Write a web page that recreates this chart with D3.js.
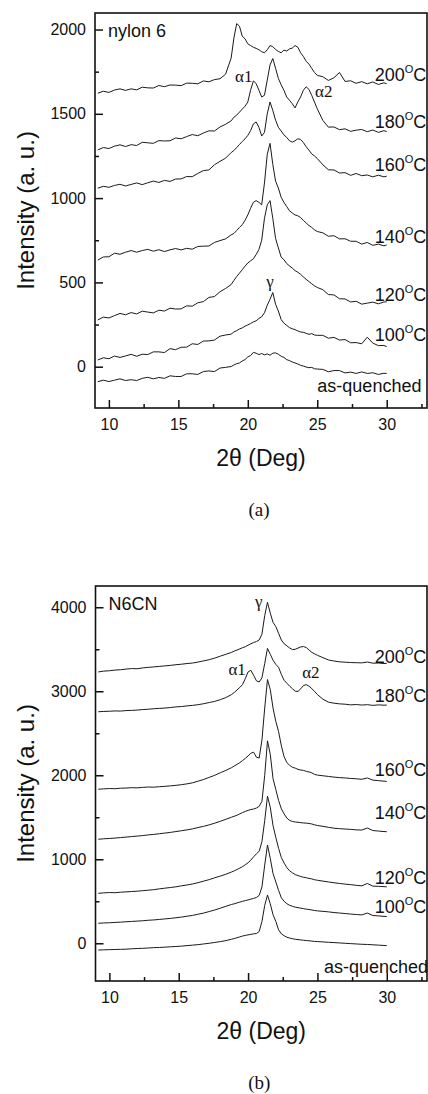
<!DOCTYPE html>
<html>
<head>
<meta charset="utf-8">
<script src="https://d3js.org/d3.v7.min.js"></script>
<style>
  body { margin: 0; background: #fff; font-family: "Liberation Sans", Arial, sans-serif; }
</style>
</head>
<body>
<div id="chart"></div>
<script>
// 2-theta grid (deg) shared by every scan
var twoTheta = [9.2, 9.6, 10.0, 10.4, 10.8, 11.2, 11.6, 12.0, 12.4, 12.8, 13.2, 13.6, 14.0, 14.4, 14.8, 15.2, 15.6, 16.0, 16.4, 16.8, 17.2, 17.6, 18.0, 18.4, 18.8,
  19.0, 19.2, 19.4, 19.6, 19.8, 20.0, 20.2, 20.4, 20.6, 20.8, 21.0, 21.2, 21.4, 21.6, 21.8, 22.0, 22.2, 22.4, 22.6, 22.8, 23.0, 23.2, 23.4, 23.6, 23.8, 24.0, 24.2, 24.4, 24.6, 24.8, 25.0,
  25.4, 25.8, 26.2, 26.6, 27.0, 27.4, 27.8, 28.2, 28.6, 29.0, 29.4, 29.8, 30.0]

var temps = ["as-quenched", "100", "120", "140", "160", "180", "200"]

// (a) nylon 6
var nylonAsQ = [-89, -80, -88, -80, -72, -82, -77, -82, -69, -63, -72, -64, -69, -54, -58, -58, -42, -42, -46, -29, -25, -29, -8, -4, 1,
  10, 18, 22, 34, 42, 58, 66, 85, 80, 72, 78, 70, 76, 68, 80, 82, 74, 62, 55, 42, 36, 28, 22, 16, 8, 4, -2, -6, -4, -12, -14,
  -16, -30, -23, -23, -37, -32, -40, -31, -40, -36, -46, -39, -40]
var nylon100 = [40, 53, 47, 63, 55, 64, 73, 62, 74, 72, 88, 88, 84, 107, 101, 115, 116, 136, 132, 152, 153, 158, 181, 188, 193,
  206, 214, 224, 230, 240, 248, 256, 266, 272, 286, 296, 320, 365, 400, 440, 370, 330, 280, 258, 245, 232, 225, 220, 212, 206, 204, 198, 192, 196, 188, 186,
  186, 169, 174, 158, 161, 142, 143, 136, 175, 140, 125, 126, 119]
var nylon120 = [277, 294, 289, 303, 316, 308, 321, 313, 329, 324, 319, 335, 330, 347, 342, 343, 361, 359, 379, 386, 411, 416, 445, 464, 487,
  512, 535, 555, 575, 596, 615, 628, 640, 665, 695, 750, 880, 960, 985, 880, 760, 705, 650, 635, 612, 598, 585, 570, 560, 548, 532, 518, 505, 492, 480, 470,
  457, 428, 426, 403, 402, 384, 388, 371, 377, 383, 373, 384, 385]
var nylon140 = [632, 651, 652, 673, 667, 679, 689, 679, 689, 696, 685, 694, 683, 693, 701, 693, 702, 697, 713, 715, 716, 737, 748, 758, 782,
  790, 808, 826, 842, 868, 900, 940, 975, 985, 975, 960, 1090, 1260, 1325, 1200, 1100, 1060, 1005, 975, 950, 925, 912, 900, 895, 885, 868, 852, 838, 826, 812, 802,
  794, 774, 777, 758, 759, 744, 744, 727, 737, 720, 727, 717, 722]
var nylon160 = [1059, 1070, 1064, 1075, 1082, 1072, 1081, 1090, 1080, 1091, 1101, 1093, 1105, 1099, 1113, 1114, 1128, 1127, 1146, 1163, 1167, 1198, 1218, 1237, 1270,
  1282, 1300, 1318, 1336, 1352, 1372, 1400, 1440, 1452, 1420, 1368, 1390, 1500, 1570, 1520, 1462, 1420, 1398, 1375, 1360, 1340, 1332, 1340, 1352, 1348, 1330, 1305, 1285, 1262, 1250, 1235,
  1198, 1168, 1167, 1149, 1151, 1135, 1146, 1133, 1137, 1126, 1136, 1126, 1130]
var nylon180 = [1286, 1300, 1294, 1308, 1316, 1306, 1317, 1312, 1331, 1328, 1325, 1341, 1339, 1340, 1357, 1352, 1365, 1377, 1370, 1386, 1399, 1398, 1422, 1438, 1458,
  1480, 1492, 1510, 1528, 1545, 1570, 1640, 1695, 1680, 1640, 1600, 1610, 1700, 1790, 1828, 1770, 1710, 1672, 1640, 1600, 1580, 1560, 1535, 1570, 1600, 1640, 1660, 1645, 1610, 1570, 1530,
  1461, 1421, 1422, 1406, 1411, 1396, 1403, 1407, 1394, 1404, 1390, 1400, 1395]
var nylon200 = [1622, 1634, 1627, 1641, 1648, 1639, 1648, 1642, 1658, 1654, 1653, 1668, 1661, 1671, 1670, 1667, 1682, 1681, 1678, 1695, 1690, 1703, 1708, 1735, 1830,
  1950, 2035, 2020, 1960, 1945, 1915, 1905, 1895, 1888, 1880, 1868, 1862, 1880, 1905, 1898, 1882, 1870, 1862, 1878, 1872, 1885, 1890, 1905, 1895, 1862, 1840, 1812, 1795, 1770, 1745, 1728,
  1720, 1698, 1714, 1745, 1692, 1696, 1681, 1691, 1678, 1689, 1674, 1684, 1678]
var nylonLabelY = [-150, 152, 389, 733, 1160, 1415, 1693]
var nylonLabelX = [32.5, 32.85, 32.85, 32.85, 32.85, 32.85, 32.85]

// (b) N6CN
var n6cnAsQ = [-80, -78, -76, -74, -72, -70, -66, -62, -60, -56, -52, -50, -46, -42, -38, -34, -28, -22, -16, -8, 0, 10, 20, 32, 48,
  56, 66, 76, 86, 94, 100, 106, 112, 116, 140, 260, 450, 575, 470, 340, 260, 160, 112, 90, 72, 62, 54, 48, 44, 40, 36, 32, 30, 26, 22, 20,
  16, 12, 8, 4, 0, -4, -8, -12, -14, -18, -22, -26, -28]
var n6cn100 = [238, 242, 244, 248, 252, 256, 260, 264, 268, 274, 278, 284, 290, 296, 304, 312, 322, 332, 346, 360, 378, 396, 418, 440, 462,
  470, 480, 490, 500, 508, 516, 526, 534, 545, 570, 670, 930, 1170, 1010, 830, 730, 630, 540, 500, 470, 452, 440, 430, 424, 418, 412, 406, 402, 396, 390, 386,
  380, 374, 366, 360, 354, 348, 342, 338, 360, 330, 326, 320, 318]
var n6cn120 = [595, 600, 604, 602, 608, 612, 616, 620, 626, 632, 638, 648, 656, 664, 672, 684, 694, 706, 722, 740, 758, 780, 800, 822, 848,
  862, 878, 895, 912, 935, 958, 990, 1030, 1065, 1095, 1210, 1460, 1750, 1620, 1400, 1260, 1130, 1020, 955, 900, 862, 838, 818, 806, 795, 786, 780, 772, 766, 756, 750,
  740, 730, 720, 712, 704, 698, 690, 684, 712, 680, 678, 674, 672]
var n6cn140 = [1238, 1244, 1248, 1252, 1258, 1264, 1270, 1276, 1282, 1290, 1296, 1304, 1312, 1320, 1330, 1340, 1350, 1362, 1378, 1392, 1410, 1430, 1452, 1476, 1500,
  1512, 1524, 1540, 1556, 1570, 1582, 1592, 1598, 1610, 1630, 1690, 2000, 2410, 2250, 1960, 1830, 1700, 1600, 1540, 1490, 1462, 1450, 1444, 1440, 1436, 1432, 1430, 1426, 1420, 1410, 1402,
  1392, 1380, 1370, 1364, 1360, 1356, 1350, 1348, 1372, 1342, 1336, 1330, 1328]
var n6cn160 = [1834, 1838, 1842, 1840, 1846, 1848, 1852, 1850, 1856, 1860, 1858, 1864, 1868, 1874, 1880, 1888, 1898, 1910, 1930, 1950, 1975, 2000, 2030, 2058, 2090,
  2110, 2130, 2150, 2175, 2200, 2230, 2262, 2275, 2215, 2205, 2420, 2800, 3140, 3020, 2800, 2640, 2520, 2350, 2220, 2150, 2118, 2095, 2085, 2070, 2062, 2058, 2046, 2040, 2028, 2010, 2002,
  1994, 1986, 1978, 1972, 1968, 1962, 1958, 1952, 1968, 1942, 1936, 1930, 1926]
var n6cn180 = [2756, 2760, 2762, 2766, 2764, 2770, 2772, 2776, 2782, 2786, 2792, 2796, 2800, 2806, 2814, 2818, 2826, 2832, 2840, 2852, 2866, 2880, 2900, 2925, 2960,
  2985, 3015, 3045, 3080, 3150, 3230, 3250, 3190, 3125, 3110, 3160, 3330, 3510, 3440, 3370, 3320, 3285, 3200, 3130, 3095, 3060, 3030, 3000, 2998, 3030, 3070, 3078, 3060, 3030, 2998, 2960,
  2905, 2870, 2858, 2850, 2846, 2838, 2842, 2836, 2840, 2832, 2838, 2834, 2836]
var n6cn200 = [3230, 3240, 3244, 3252, 3256, 3264, 3270, 3268, 3278, 3284, 3290, 3296, 3302, 3308, 3316, 3322, 3330, 3336, 3348, 3362, 3376, 3395, 3418, 3440, 3462,
  3478, 3490, 3505, 3518, 3530, 3548, 3565, 3580, 3592, 3610, 3680, 3900, 4060, 3930, 3820, 3770, 3690, 3610, 3565, 3540, 3515, 3496, 3500, 3514, 3528, 3532, 3520, 3490, 3462, 3445, 3428,
  3400, 3372, 3360, 3350, 3346, 3342, 3340, 3338, 3348, 3334, 3336, 3330, 3332]
var n6cnLabelY = [-350, 364, 702, 1476, 1992, 2876, 3340]
var n6cnLabelX = [32.97, 32.85, 32.85, 32.85, 32.85, 32.85, 32.85]

var xMajor = [10, 15, 20, 25, 30]
var xMinor = [12.5, 17.5, 22.5, 27.5, 32.5]

var panels = [
  { name: "nylon 6", caption: "(a)", box: [95, 13, 427, 408], yDomain: [-245, 2098],
    yMajor: [0, 500, 1000, 1500, 2000], yMinor: [250, 750, 1250, 1750],
    series: [nylonAsQ, nylon100, nylon120, nylon140, nylon160, nylon180, nylon200],
    labelY: nylonLabelY, labelX: nylonLabelX,
    peaks: [{ t: "\u03b11", x: 19.08, y: 1688, a: "start" }, { t: "\u03b12", x: 24.84, y: 1599, a: "start" }, { t: "\u03b3", x: 21.6, y: 472, a: "middle" }] },
  { name: "N6CN", caption: "(b)", box: [95.5, 586, 427, 981], yDomain: [-449, 4253],
    yMajor: [0, 1000, 2000, 3000, 4000], yMinor: [500, 1500, 2500, 3500],
    series: [n6cnAsQ, n6cn100, n6cn120, n6cn140, n6cn160, n6cn180, n6cn200],
    labelY: n6cnLabelY, labelX: n6cnLabelX,
    peaks: [{ t: "\u03b11", x: 18.58, y: 3194, a: "start" }, { t: "\u03b12", x: 23.9, y: 3158, a: "start" }, { t: "\u03b3", x: 20.77, y: 4004, a: "middle" }] }
]

var svg = d3.select("#chart").append("svg")
  .attr("width", 428)
  .attr("height", 1094)

panels.forEach(function(p) {
  var left = p.box[0], top = p.box[1], right = p.box[2], bottom = p.box[3]
  var x = d3.scaleLinear().domain([9, 32.9]).range([left, right])
  var y = d3.scaleLinear().domain(p.yDomain).range([bottom, top])
  var g = svg.append("g")

  // ticks point inward
  g.append("g").attr("transform", "translate(0," + bottom + ")")
    .call(d3.axisBottom(x).tickValues(xMajor).tickSize(-8).tickPadding(11).tickFormat(d3.format("d")))
  g.append("g").attr("transform", "translate(0," + bottom + ")")
    .call(d3.axisBottom(x).tickValues(xMinor).tickSize(-4).tickFormat(""))
  g.append("g").attr("transform", "translate(" + left + ",0)")
    .call(d3.axisLeft(y).tickValues(p.yMajor).tickSize(-8).tickPadding(9).tickFormat(d3.format("d")))
  g.append("g").attr("transform", "translate(" + left + ",0)")
    .call(d3.axisLeft(y).tickValues(p.yMinor).tickSize(-4).tickFormat(""))
  g.selectAll(".domain").remove()
  g.selectAll(".tick line").attr("stroke", "#111").attr("stroke-width", 1.5)
  g.selectAll(".tick text").attr("font-size", 16).attr("fill", "#111")
    .attr("font-family", "Liberation Sans, Arial, sans-serif")

  g.append("rect")
    .attr("x", left).attr("y", top)
    .attr("width", right - left).attr("height", bottom - top)
    .attr("fill", "none").attr("stroke", "#111").attr("stroke-width", 1.6)

  var line = d3.line()
    .x(function(d) { return x(d[0]) })
    .y(function(d) { return y(d[1]) })

  p.series.forEach(function(vals, i) {
    g.append("path")
      .datum(twoTheta.map(function(t, k) { return [t, vals[k]] }))
      .attr("d", line)
      .attr("fill", "none")
      .attr("stroke", "#1a1a1a")
      .attr("stroke-width", 1)
      .attr("stroke-linejoin", "round")

    var lab = g.append("text")
      .attr("x", x(p.labelX[i]))
      .attr("y", y(p.labelY[i]))
      .attr("text-anchor", "end")
      .attr("font-size", 18)
      .attr("fill", "#111")
    if (temps[i] == "as-quenched") {
      lab.text(temps[i])
    } else {
      lab.append("tspan").text(temps[i])
      lab.append("tspan").text("O").attr("font-size", 11).attr("dy", -8)
      lab.append("tspan").text("C").attr("dy", 8)
    }
  })

  p.peaks.forEach(function(pk) {
    g.append("text")
      .attr("x", x(pk.x)).attr("y", y(pk.y))
      .attr("text-anchor", pk.a)
      .attr("font-family", "Liberation Serif, Times New Roman, serif")
      .attr("font-size", 17)
      .attr("fill", "#111")
      .text(pk.t)
  })

  g.append("text")
    .attr("x", left + 13).attr("y", top + 24)
    .attr("font-size", 18).attr("fill", "#111")
    .text(p.name)

  var midX = (left + right) / 2
  g.append("text")
    .attr("x", midX).attr("y", bottom + 58)
    .attr("text-anchor", "middle").attr("font-size", 23).attr("fill", "#111")
    .text("2\u03b8 (Deg)")

  g.append("text")
    .attr("transform", "translate(34," + ((top + bottom) / 2) + ") rotate(-90)")
    .attr("text-anchor", "middle").attr("font-size", 24).attr("fill", "#111")
    .text("Intensity (a. u.)")

  g.append("text")
    .attr("x", midX - 2).attr("y", bottom + 108)
    .attr("text-anchor", "middle")
    .attr("font-family", "Liberation Serif, Times New Roman, serif")
    .attr("font-size", 19).attr("fill", "#111")
    .text(p.caption)
})
</script>
</body>
</html>
